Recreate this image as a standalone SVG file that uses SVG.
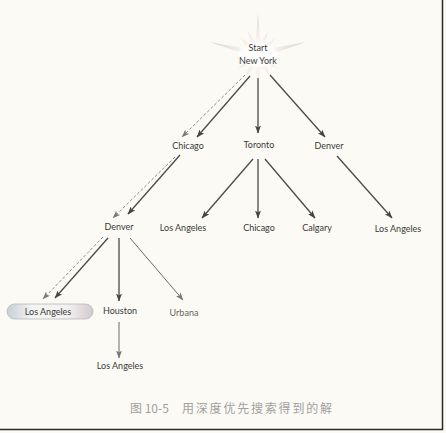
<svg xmlns="http://www.w3.org/2000/svg" width="446" height="433" viewBox="0 0 446 433">
  <defs>
    <radialGradient id="glow" cx="258" cy="55" r="50" gradientUnits="userSpaceOnUse">
      <stop offset="0" stop-color="#ffffff"/>
      <stop offset="0.3" stop-color="#f8f3f0"/>
      <stop offset="1" stop-color="#d8cfcf"/>
    </radialGradient>
    <linearGradient id="pill" x1="0" y1="0" x2="1" y2="0">
      <stop offset="0" stop-color="#c9cfd8"/>
      <stop offset="0.3" stop-color="#f4f4f2"/>
      <stop offset="0.7" stop-color="#f4f2f0"/>
      <stop offset="1" stop-color="#d2c9cc"/>
    </linearGradient>
    <marker id="ah" viewBox="0 0 8 6" refX="7.5" refY="3" markerWidth="8" markerHeight="6" markerUnits="userSpaceOnUse" orient="auto">
      <path d="M0,0 L8,3 L0,6 L2,3 z" fill="#444"/>
    </marker>
    <marker id="ahl" viewBox="0 0 8 6" refX="7.5" refY="3" markerWidth="8" markerHeight="6" markerUnits="userSpaceOnUse" orient="auto">
      <path d="M0,0 L8,3 L0,6 L2,3 z" fill="#777"/>
    </marker>
  </defs>
  <style>
    .lbl { font-family: Lato, "Open Sans", "DejaVu Sans", sans-serif; font-size: 9px; fill: #3a3a3a; text-anchor: middle; }
    .edge { stroke: #4a4a4a; stroke-width: 1.3; fill: none; marker-end: url(#ah); }
    .thin { stroke: #6a6a6a; stroke-width: 1; fill: none; marker-end: url(#ahl); }
    .dash { stroke: #8a8a8a; stroke-width: 1; stroke-dasharray: 3 2; fill: none; marker-end: url(#ahl); }
    .cap { font-family: "Noto Sans CJK SC", "DejaVu Sans", sans-serif; font-size: 12px; fill: #a0a0a0; }
  </style>
  <rect x="0" y="0" width="446" height="433" fill="#fbfaf4"/>
  <g id="frame">
    <line x1="442.5" y1="0" x2="442.5" y2="430" stroke="#2a2a2a" stroke-width="1.5"/>
    <line x1="0" y1="429.5" x2="443" y2="429.5" stroke="#2a2a2a" stroke-width="1.5"/>
  </g>
  <g id="connectors">
    <line class="dash" x1="245" y1="75" x2="182" y2="137"/>
    <line class="edge" x1="250" y1="76" x2="197" y2="137"/>
    <line class="edge" x1="258" y1="78" x2="258" y2="133"/>
    <line class="edge" x1="270" y1="75" x2="325" y2="137"/>
    <line class="dash" x1="175" y1="157" x2="113" y2="218"/>
    <line class="edge" x1="180" y1="155" x2="128" y2="214"/>
    <line class="edge" x1="253" y1="159" x2="202" y2="218"/>
    <line class="edge" x1="258" y1="159" x2="258" y2="218"/>
    <line class="edge" x1="265" y1="159" x2="315" y2="218"/>
    <line class="edge" x1="337" y1="156" x2="392" y2="218"/>
    <line class="dash" x1="103" y1="237" x2="43" y2="299"/>
    <line class="edge" x1="108" y1="238" x2="55" y2="298"/>
    <line class="edge" x1="119" y1="238" x2="119" y2="301"/>
    <line class="thin" x1="130" y1="238" x2="183" y2="300"/>
    <line class="thin" x1="119" y1="322" x2="119" y2="358"/>
  </g>
  <g id="start">
    <polygon fill="url(#glow)" points="258,13 260.4,43.2 268.2,31.1 264.7,45.1 275,38 268.4,49 305.3,42.3 270,54.5 279.7,58.8 269.1,59.6 277.7,68.8 266.1,63.8 270,75.8 261.1,66.6 258,79 254.9,66.6 246,75.8 249.9,63.8 238.3,68.8 246.9,59.6 236.3,58.8 246,54.5 209.7,42.1 247.6,49 241,38 251.3,45.1 247.8,31.1 255.6,43.2"/>
    <ellipse cx="258" cy="55" rx="20" ry="12" fill="#ffffff" opacity="0.7"/>
    <text class="lbl" x="258" y="51">Start</text>
    <text class="lbl" x="258" y="64">New York</text>
  </g>
  <g id="chicago1"><text class="lbl" x="188" y="149">Chicago</text></g>
  <g id="toronto"><text class="lbl" x="259" y="148">Toronto</text></g>
  <g id="denver1"><text class="lbl" x="329" y="149">Denver</text></g>
  <g id="denver2"><text class="lbl" x="119" y="230">Denver</text></g>
  <g id="la1"><text class="lbl" x="183" y="231">Los Angeles</text></g>
  <g id="chicago2"><text class="lbl" x="259" y="231">Chicago</text></g>
  <g id="calgary"><text class="lbl" x="317" y="231">Calgary</text></g>
  <g id="la2"><text class="lbl" x="398" y="232">Los Angeles</text></g>
  <g id="la-goal">
    <rect x="7" y="304" width="86" height="15" rx="7.5" fill="url(#pill)" stroke="#b8b8bc" stroke-width="0.8"/>
    <text class="lbl" x="48" y="315">Los Angeles</text>
  </g>
  <g id="houston"><text class="lbl" x="120" y="314">Houston</text></g>
  <g id="urbana"><text class="lbl" x="184" y="316" style="fill:#666">Urbana</text></g>
  <g id="la3"><text class="lbl" x="120" y="369">Los Angeles</text></g>
  <g id="caption">
    <text class="cap" x="130" y="413">图 10-5</text>
    <text class="cap" x="182" y="413" letter-spacing="1.8">用深度优先搜索得到的解</text>
  </g>
</svg>
